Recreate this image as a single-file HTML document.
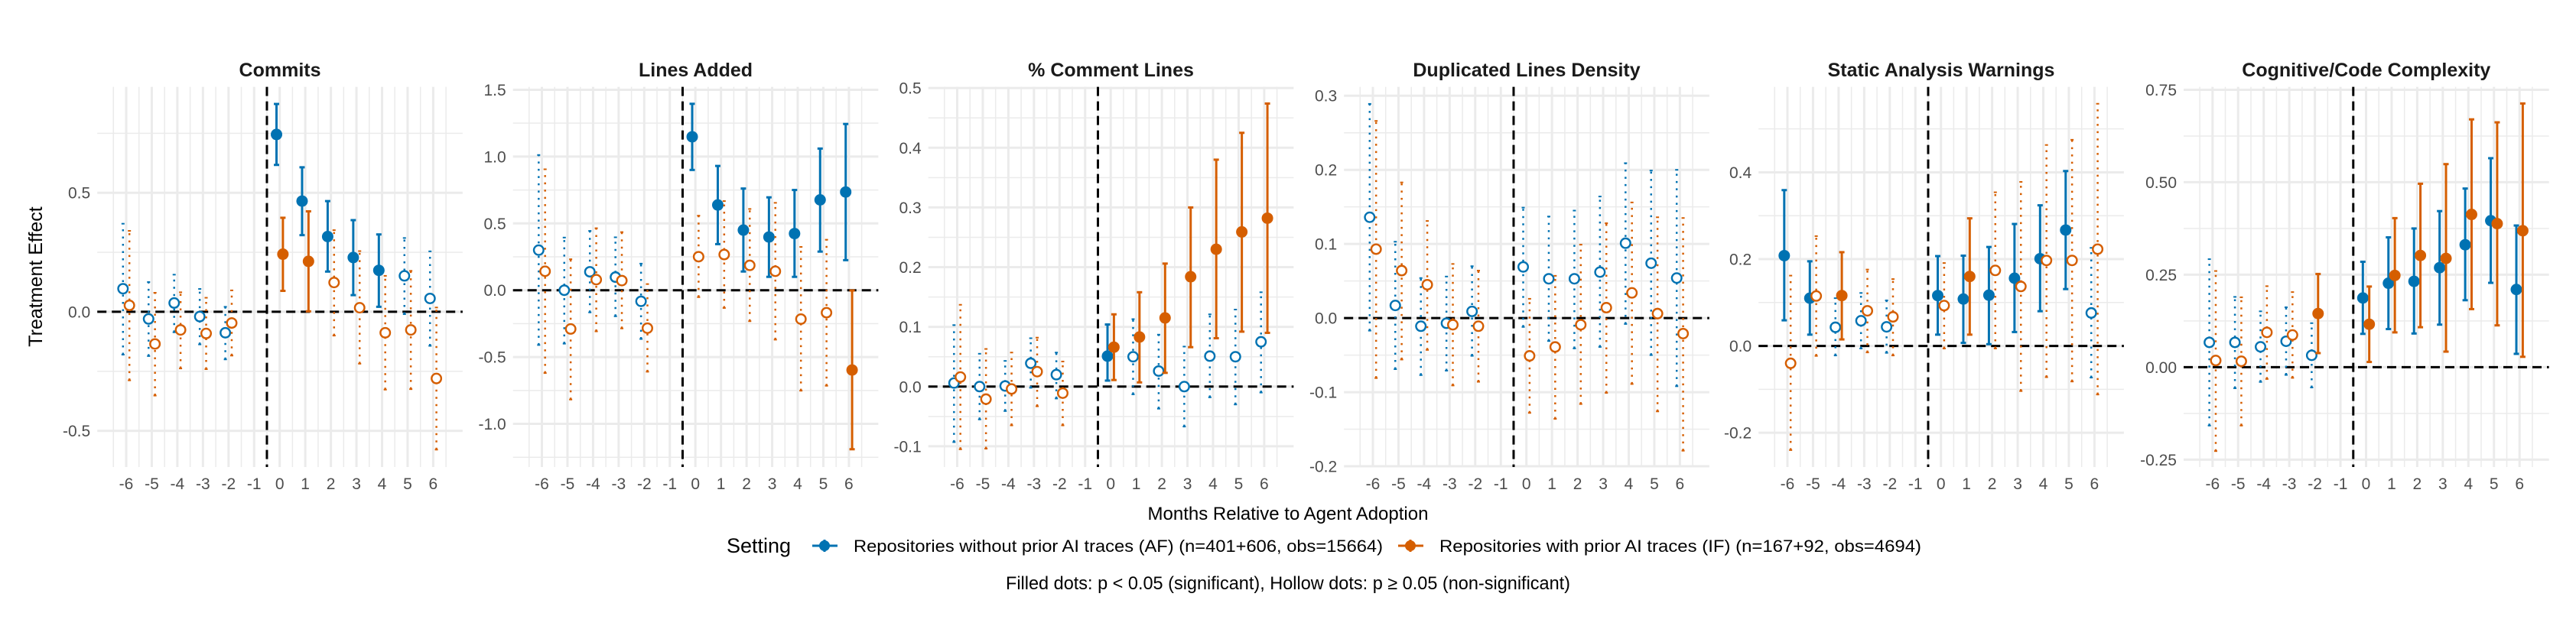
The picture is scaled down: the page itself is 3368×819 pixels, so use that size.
<!DOCTYPE html>
<html><head><meta charset="utf-8"><style>
html,body{margin:0;padding:0;background:#fff}
svg text{font-family:"Liberation Sans",Arial,sans-serif}
</style></head><body>
<svg id="chart" width="3368" height="814" viewBox="0 0 3368 814" xmlns="http://www.w3.org/2000/svg">
<rect x="0" y="0" width="3368" height="814" fill="#fff"/>
<g id="panels"></g>
<text x="55" y="362" transform="rotate(-90 55 362)" text-anchor="middle" font-size="25" fill="#000">Treatment Effect</text>
<text x="1684" y="680" text-anchor="middle" font-size="24" fill="#000">Months Relative to Agent Adoption</text>
<g>
<text x="950" y="723" font-size="27" fill="#000">Setting</text>
<g>
<line x1="1062" y1="714" x2="1095" y2="714" stroke="#0072B2" stroke-width="3"/>
<line x1="1078" y1="706" x2="1078" y2="722" stroke="#0072B2" stroke-width="3"/>
<circle cx="1078" cy="714" r="7" fill="#0072B2"/>
<text x="1116" y="722" font-size="22" textLength="692" lengthAdjust="spacingAndGlyphs" fill="#000">Repositories without prior AI traces (AF) (n=401+606, obs=15664)</text>
</g>
<g>
<line x1="1828" y1="714" x2="1861" y2="714" stroke="#D55E00" stroke-width="3"/>
<line x1="1844" y1="706" x2="1844" y2="722" stroke="#D55E00" stroke-width="3"/>
<circle cx="1844" cy="714" r="7" fill="#D55E00"/>
<text x="1882" y="722" font-size="22" textLength="630" lengthAdjust="spacingAndGlyphs" fill="#000">Repositories with prior AI traces (IF) (n=167+92, obs=4694)</text>
</g>
</g>
<text x="1684" y="771" text-anchor="middle" font-size="24" textLength="738" lengthAdjust="spacingAndGlyphs" fill="#000">Filled dots: p &lt; 0.05 (significant), Hollow dots: p ≥ 0.05 (non-significant)</text>
</svg>
<script>
// Shared categories
const months = [-6,-5,-4,-3,-2,0,1,2,3,4,5,6];
const xTicks = [-6,-5,-4,-3,-2,-1,0,1,2,3,4,5,6];
const panelTitles = ["Commits","Lines Added","% Comment Lines","Duplicated Lines Density","Static Analysis Warnings","Cognitive/Code Complexity"];
const yTickValues = [
 [-0.5,0,0.5],
 [-1,-0.5,0,0.5,1,1.5],
 [-0.1,0,0.1,0.2,0.3,0.4,0.5],
 [-0.2,-0.1,0,0.1,0.2,0.3],
 [-0.2,0,0.2,0.4],
 [-0.25,0,0.25,0.5,0.75]
];
const yTickLabels = [
 ["-0.5","0.0","0.5"],
 ["-1.0","-0.5","0.0","0.5","1.0","1.5"],
 ["-0.1","0.0","0.1","0.2","0.3","0.4","0.5"],
 ["-0.2","-0.1","0.0","0.1","0.2","0.3"],
 ["-0.2","0.0","0.2","0.4"],
 ["-0.25","0.00","0.25","0.50","0.75"]
];
const yMinorValues = [
 [-0.25,0.25,0.75],
 [-1.25,-0.75,-0.25,0.25,0.75,1.25],
 [-0.05,0.05,0.15,0.25,0.35,0.45],
 [-0.15,-0.05,0.05,0.15,0.25],
 [-0.1,0.1,0.3,0.5],
 [-0.125,0.125,0.375,0.625]
];
const yDomains = [[-0.652,0.945],[-1.323,1.522],[-0.1347,0.502],[-0.201,0.312],[-0.279,0.597],[-0.270,0.758]];

// AF (blue) series: estimate, lower, upper
const afEst = [
 [0.097,-0.03,0.037,-0.02,-0.088,0.745,0.465,0.316,0.228,0.174,0.151,0.056],
 [0.30,0.0,0.138,0.098,-0.083,1.148,0.638,0.45,0.398,0.424,0.676,0.735],
 [0.006,0.0,0.001,0.039,0.020,0.051,0.05,0.026,0.0,0.051,0.05,0.075],
 [0.136,0.017,-0.011,-0.007,0.009,0.069,0.053,0.053,0.062,0.101,0.074,0.054],
 [0.208,0.110,0.043,0.058,0.044,0.116,0.108,0.117,0.156,0.201,0.267,0.076],
 [0.067,0.067,0.055,0.070,0.032,0.187,0.227,0.232,0.269,0.331,0.396,0.21]
];
const afLo = [
 [-0.18,-0.186,-0.086,-0.137,-0.2,0.617,0.322,0.169,0.07,0.021,-0.01,-0.143],
 [-0.41,-0.40,-0.166,-0.195,-0.365,0.90,0.345,0.14,0.10,0.10,0.289,0.225],
 [-0.093,-0.055,-0.041,-0.002,-0.02,0.01,-0.013,-0.037,-0.067,-0.018,-0.03,-0.01],
 [-0.017,-0.069,-0.077,-0.071,-0.051,-0.012,-0.031,-0.041,-0.039,-0.008,-0.05,-0.092],
 [0.059,0.026,-0.022,-0.006,-0.016,0.026,0.007,0.004,0.032,0.08,0.131,-0.073],
 [-0.158,-0.057,-0.04,-0.021,-0.055,0.09,0.103,0.091,0.115,0.181,0.228,0.036]
];
const afHi = [
 [0.37,0.125,0.156,0.096,0.021,0.873,0.607,0.465,0.385,0.325,0.31,0.254],
 [1.012,0.394,0.444,0.396,0.199,1.395,0.93,0.761,0.695,0.75,1.06,1.244],
 [0.103,0.055,0.043,0.081,0.057,0.104,0.113,0.087,0.067,0.121,0.129,0.158],
 [0.289,0.103,0.054,0.056,0.070,0.149,0.137,0.145,0.164,0.209,0.199,0.20],
 [0.359,0.195,0.110,0.122,0.105,0.207,0.208,0.228,0.281,0.324,0.403,0.226],
 [0.292,0.19,0.151,0.162,0.119,0.285,0.351,0.375,0.422,0.483,0.565,0.383]
];
// IF (orange) series
const ifEst = [
 [0.027,-0.135,-0.076,-0.091,-0.047,0.242,0.212,0.123,0.017,-0.088,-0.076,-0.28],
 [0.142,-0.29,0.079,0.072,-0.284,0.251,0.267,0.186,0.142,-0.216,-0.168,-0.597],
 [0.016,-0.021,-0.004,0.025,-0.011,0.066,0.083,0.115,0.184,0.23,0.259,0.282],
 [0.093,0.064,0.045,-0.009,-0.011,-0.051,-0.039,-0.009,0.014,0.034,0.006,-0.021],
 [-0.04,0.115,0.116,0.081,0.067,0.093,0.160,0.174,0.137,0.197,0.197,0.223],
 [0.018,0.016,0.094,0.087,0.145,0.116,0.248,0.302,0.294,0.413,0.388,0.369]
];
const ifLo = [
 [-0.288,-0.352,-0.238,-0.241,-0.184,0.088,0.002,-0.10,-0.218,-0.327,-0.325,-0.579],
 [-0.62,-0.818,-0.308,-0.286,-0.61,-0.052,-0.133,-0.232,-0.37,-0.752,-0.715,-1.19],
 [-0.105,-0.104,-0.065,-0.033,-0.065,0.011,0.007,0.023,0.066,0.081,0.092,0.09],
 [-0.081,-0.056,-0.043,-0.091,-0.086,-0.128,-0.136,-0.116,-0.101,-0.089,-0.126,-0.179],
 [-0.24,-0.023,0.015,-0.015,-0.022,-0.006,0.026,-0.006,-0.104,-0.072,-0.082,-0.112],
 [-0.227,-0.158,-0.032,-0.029,0.038,0.014,0.094,0.108,0.042,0.157,0.113,0.028]
];
const ifHi = [
 [0.34,0.08,0.082,0.059,0.09,0.395,0.422,0.343,0.255,0.151,0.172,0.018],
 [0.905,0.232,0.464,0.435,0.046,0.558,0.667,0.608,0.654,0.324,0.378,-0.002],
 [0.137,0.063,0.057,0.082,0.042,0.121,0.158,0.206,0.30,0.38,0.425,0.474],
 [0.266,0.183,0.131,0.073,0.064,0.026,0.057,0.099,0.128,0.156,0.136,0.135],
 [0.162,0.253,0.216,0.176,0.154,0.191,0.294,0.354,0.378,0.463,0.475,0.558],
 [0.26,0.189,0.219,0.203,0.252,0.218,0.403,0.496,0.549,0.670,0.662,0.713]
];

const NS = "http://www.w3.org/2000/svg";
const panelAnchor = [165,708.5,1251.5,1795,2337,2892.8]; // pixel of x=-6 per panel (layout)
const PXU = 33.45, TOP = 113.6, BOT = 611;
const BLUE = "#0072B2", ORANGE = "#D55E00";
function mk(tag, attrs, parent){const e=document.createElementNS(NS,tag);for(const k in attrs)e.setAttribute(k,attrs[k]);parent.appendChild(e);return e;}
const root = document.getElementById('panels');

panelTitles.forEach((title, p) => {
  const xs = v => panelAnchor[p] + (v + 6) * PXU;
  const [d0, d1] = yDomains[p];
  const ys = v => BOT - (v - d0) / (d1 - d0) * (BOT - TOP);
  const left = xs(-7.13), right = xs(7.15);
  const g = mk('g', {}, root);
  
  
  // minor gridlines
  yMinorValues[p].forEach(v => { if (v > d0 && v < d1) mk('line', {x1:left, x2:right, y1:ys(v), y2:ys(v), stroke:'#ebebeb', 'stroke-width':1.5}, g); });
  for (let v = -6.5; v <= 6.5; v += 1) mk('line', {x1:xs(v), x2:xs(v), y1:TOP, y2:BOT, stroke:'#ebebeb', 'stroke-width':1.5}, g);
  // major gridlines
  yTickValues[p].forEach((v, i) => {
    mk('line', {x1:left, x2:right, y1:ys(v), y2:ys(v), stroke:'#ebebeb', 'stroke-width':3}, g);
    const t = mk('text', {x:left - 9, y:ys(v) + 7.5, 'text-anchor':'end', 'font-size':21, fill:'#4d4d4d'}, g);
    t.textContent = yTickLabels[p][i];
    
    
  });
  xTicks.forEach(v => {
    mk('line', {x1:xs(v), x2:xs(v), y1:TOP, y2:BOT, stroke:'#ebebeb', 'stroke-width':3}, g);
    const t = mk('text', {x:xs(v), y:640, 'text-anchor':'middle', 'font-size':21, fill:'#4d4d4d'}, g);
    t.textContent = String(v);
    
    
  });
  // title
  const tt = mk('text', {x:(left + right) / 2, y:100, 'text-anchor':'middle', 'font-size':25, 'font-weight':'bold', fill:'#1a1a1a'}, g);
  tt.textContent = title;
  
  
  // reference lines
  mk('line', {x1:left, x2:right, y1:ys(0), y2:ys(0), stroke:'#000', 'stroke-width':3, 'stroke-dasharray':'12 7'}, g);
  mk('line', {x1:xs(-0.5), x2:xs(-0.5), y1:TOP, y2:BOT, stroke:'#000', 'stroke-width':3, 'stroke-dasharray':'12 7'}, g);
  // series
  const series = [[afEst[p], afLo[p], afHi[p], BLUE, -0.125, 'af'], [ifEst[p], ifLo[p], ifHi[p], ORANGE, 0.125, 'if']];
  series.forEach(([est, lo, hi, col, off, key]) => {
    months.forEach((m, i) => {
      const sig = lo[i] > 0 || hi[i] < 0;
      const cx = xs(m + off);
      const mg = mk('g', {}, g);
      
      
      if (sig) {
        mk('line', {x1:cx, x2:cx, y1:ys(lo[i]), y2:ys(hi[i]), stroke:col, 'stroke-width':3}, mg);
        mk('line', {x1:cx - 3.5, x2:cx + 3.5, y1:ys(lo[i]), y2:ys(lo[i]), stroke:col, 'stroke-width':3}, mg);
        mk('line', {x1:cx - 3.5, x2:cx + 3.5, y1:ys(hi[i]), y2:ys(hi[i]), stroke:col, 'stroke-width':3}, mg);
        mk('circle', {cx:cx, cy:ys(est[i]), r:7.5, fill:col}, mg);
      } else {
        mk('line', {x1:cx, x2:cx, y1:ys(lo[i]), y2:ys(hi[i]), stroke:col, 'stroke-width':2.5, 'stroke-dasharray':'2.5 7'}, mg);
        mk('line', {x1:cx - 2, x2:cx + 2, y1:ys(lo[i]), y2:ys(lo[i]), stroke:col, 'stroke-width':2}, mg);
        mk('line', {x1:cx - 2, x2:cx + 2, y1:ys(hi[i]), y2:ys(hi[i]), stroke:col, 'stroke-width':2}, mg);
        mk('circle', {cx:cx, cy:ys(est[i]), r:6.3, fill:'#fff', stroke:col, 'stroke-width':2.4}, mg);
      }
    });
  });
});
</script>
</body></html>
